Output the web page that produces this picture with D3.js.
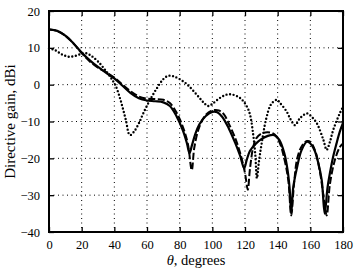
<!DOCTYPE html>
<html>
<head>
<meta charset="utf-8">
<script src="https://cdn.jsdelivr.net/npm/d3@7"></script>
<style>
  body { margin: 0; background: #fff; }
  svg { display: block; font-family: "Liberation Serif", "DejaVu Serif", serif; }
</style>
</head>
<body>
<svg id="chart"></svg>
<script>
// data: [theta in degrees, gain in dBi]
const solidSeries = [
  [0, 15.0], [5, 14.6], [10, 13.3], [15, 11.2], [20, 8.7], [25, 6.6], [30, 4.8], [35, 3.2],
  [40, 1.7], [45, -0.3], [50, -2.3], [55, -3.7], [60, -4.3], [65, -4.5], [70, -4.8], [74, -5.8],
  [78, -8.5], [82, -12.5], [84.5, -16], [86, -18.6], [87.5, -16.5], [89.5, -13.5], [92, -10.8],
  [96, -8.5], [100, -7.4], [103, -7.5], [106, -8.7], [110, -11.8], [114, -15.8], [117, -19.3],
  [119.5, -22.7], [121, -20.5], [123, -18], [126, -16.3], [130, -14.8], [134, -13.9], [138, -13.7],
  [141, -15], [144, -18.5], [146, -23], [147.3, -28], [148.3, -35], [149.5, -28], [151.6, -23],
  [154.7, -17.7], [158, -15.5], [161, -16.5], [163, -18.3], [165, -21.5], [167, -26], [168.8, -35],
  [170.5, -28], [172, -24], [174, -19.5], [176, -16], [178, -12.8], [180, -10.4]
];

const dashedSeries = [
  [0, 15.0], [5, 14.6], [10, 13.3], [15, 11.2], [20, 8.6], [25, 6.3], [30, 4.6], [35, 3.4],
  [40, 1.9], [45, 0], [50, -1.8], [55, -3.2], [60, -3.8], [65, -3.9], [70, -4.1], [74, -5],
  [78, -7.5], [82, -11.5], [85, -16], [87.4, -23.2], [89, -17], [92, -11.5], [96, -8.2],
  [100, -7], [104, -7], [107, -8], [110, -10.5], [114, -14.5], [117, -18.5], [120, -24],
  [121.7, -28.5], [123, -23], [125, -17], [127, -14.5], [130, -13.3], [134, -12.9], [138, -13.5],
  [141, -15.5], [144, -20], [146.5, -26], [148.3, -35.5], [150, -27], [152, -20], [155, -16.5],
  [158, -15.3], [160, -15.5], [163, -18], [166, -24], [168, -30], [170, -35.5], [172, -27],
  [175, -20.5], [178, -17], [180, -16]
];

const dottedSeries = [
  [0, 9.9], [4, 9.3], [8, 8.2], [12, 7.6], [16, 7.8], [20, 8.4], [23, 8.5], [26, 7.8],
  [30, 6.3], [34, 4.2], [38, 1.8], [41, -0.5], [44, -4.5], [47, -9.5], [49.5, -13.7],
  [52, -12.8], [55, -10.5], [58, -7.5], [62, -4], [66, -1], [70, 1.5], [73, 2.4], [76, 2.3],
  [80, 1.5], [84, 0.3], [88, -1.5], [92, -3.5], [95, -5], [97.5, -5.8], [100, -5.2],
  [104, -3.8], [108, -2.8], [111, -2.6], [115, -3.1], [118, -4], [121, -5.8], [123, -8],
  [125, -13.5], [126.3, -19], [127.3, -25.4], [128.5, -21], [130, -16.5], [133, -9.2],
  [136, -5.3], [139.5, -4.1], [141.5, -5], [145.5, -7.3], [148, -9.5], [150.6, -11],
  [153.7, -9.1], [158, -7.8], [161, -8.8], [164, -10.5], [168, -15], [170, -17.7],
  [172, -15.5], [174, -12.3], [178, -7.8], [180, -6]
];

const xTicks = [0, 20, 40, 60, 80, 100, 120, 140, 160, 180];
const yTicks = [-40, -30, -20, -10, 0, 10, 20];

const width = 354, height = 272;
const margin = { top: 11, right: 11, bottom: 40, left: 49 };

const svg = d3.select("#chart").attr("width", width).attr("height", height);

const x = d3.scaleLinear().domain([0, 180]).range([margin.left, width - margin.right]);
const y = d3.scaleLinear().domain([-40, 20]).range([height - margin.bottom, margin.top]);

const fmt = d => (d < 0 ? "\u2212" + Math.abs(d) : "" + d);

// dotted grid
const grid = svg.append("g").attr("stroke", "#000").attr("stroke-width", 1)
  .attr("stroke-dasharray", "1,3.5");
grid.selectAll(".vg").data(xTicks.slice(1, -1)).enter().append("line")
  .attr("x1", d => x(d)).attr("x2", d => x(d))
  .attr("y1", y(20)).attr("y2", y(-40));
grid.selectAll(".hg").data(yTicks.slice(1, -1)).enter().append("line")
  .attr("x1", x(0)).attr("x2", x(180))
  .attr("y1", d => y(d)).attr("y2", d => y(d));

// axes with inward ticks on all four sides
const tickLen = 5;
svg.append("g").attr("transform", `translate(0,${y(-40)})`)
  .call(d3.axisBottom(x).tickValues(xTicks).tickSize(-tickLen).tickPadding(8).tickFormat(fmt));
svg.append("g").attr("transform", `translate(${x(0)},0)`)
  .call(d3.axisLeft(y).tickValues(yTicks).tickSize(-tickLen).tickPadding(9).tickFormat(fmt));
svg.append("g").attr("transform", `translate(0,${y(20)})`)
  .call(d3.axisTop(x).tickValues(xTicks).tickSize(-tickLen).tickFormat(""));
svg.append("g").attr("transform", `translate(${x(180)},0)`)
  .call(d3.axisRight(y).tickValues(yTicks).tickSize(-tickLen).tickFormat(""));

svg.selectAll(".domain").remove();
svg.selectAll(".tick line").attr("stroke", "#000").attr("stroke-width", 1.3);
svg.selectAll(".tick text")
  .attr("fill", "#000")
  .style("font-family", "'Liberation Serif', serif")
  .style("font-size", "12.5px");

// curves
const line = d3.line()
  .x(d => x(d[0]))
  .y(d => y(d[1]))
  .curve(d3.curveCatmullRom.alpha(0.5));

const plot = svg.append("g");
plot.append("path").datum(dottedSeries).attr("d", line)
  .attr("fill", "none").attr("stroke", "#000").attr("stroke-width", 2.4)
  .attr("stroke-linecap", "round").attr("stroke-dasharray", "0,3.6");
plot.append("path").datum(dashedSeries).attr("d", line)
  .attr("fill", "none").attr("stroke", "#000").attr("stroke-width", 2)
  .attr("stroke-dasharray", "7,2.5");
plot.append("path").datum(solidSeries).attr("d", line)
  .attr("fill", "none").attr("stroke", "#000").attr("stroke-width", 2.2);

// frame
svg.append("rect")
  .attr("x", x(0)).attr("y", y(20))
  .attr("width", x(180) - x(0)).attr("height", y(-40) - y(20))
  .attr("fill", "none").attr("stroke", "#000").attr("stroke-width", 2);

// axis labels
const xl = svg.append("text")
  .attr("x", (x(0) + x(180)) / 2).attr("y", 265)
  .attr("text-anchor", "middle").style("font-size", "14.5px");
xl.append("tspan").style("font-style", "italic").text("\u03b8");
xl.append("tspan").text(", degrees");

svg.append("text")
  .attr("transform", `translate(15,${(y(20) + y(-40)) / 2}) rotate(-90)`)
  .attr("text-anchor", "middle").style("font-size", "15px")
  .text("Directive gain, dBi");
</script>
</body>
</html>
